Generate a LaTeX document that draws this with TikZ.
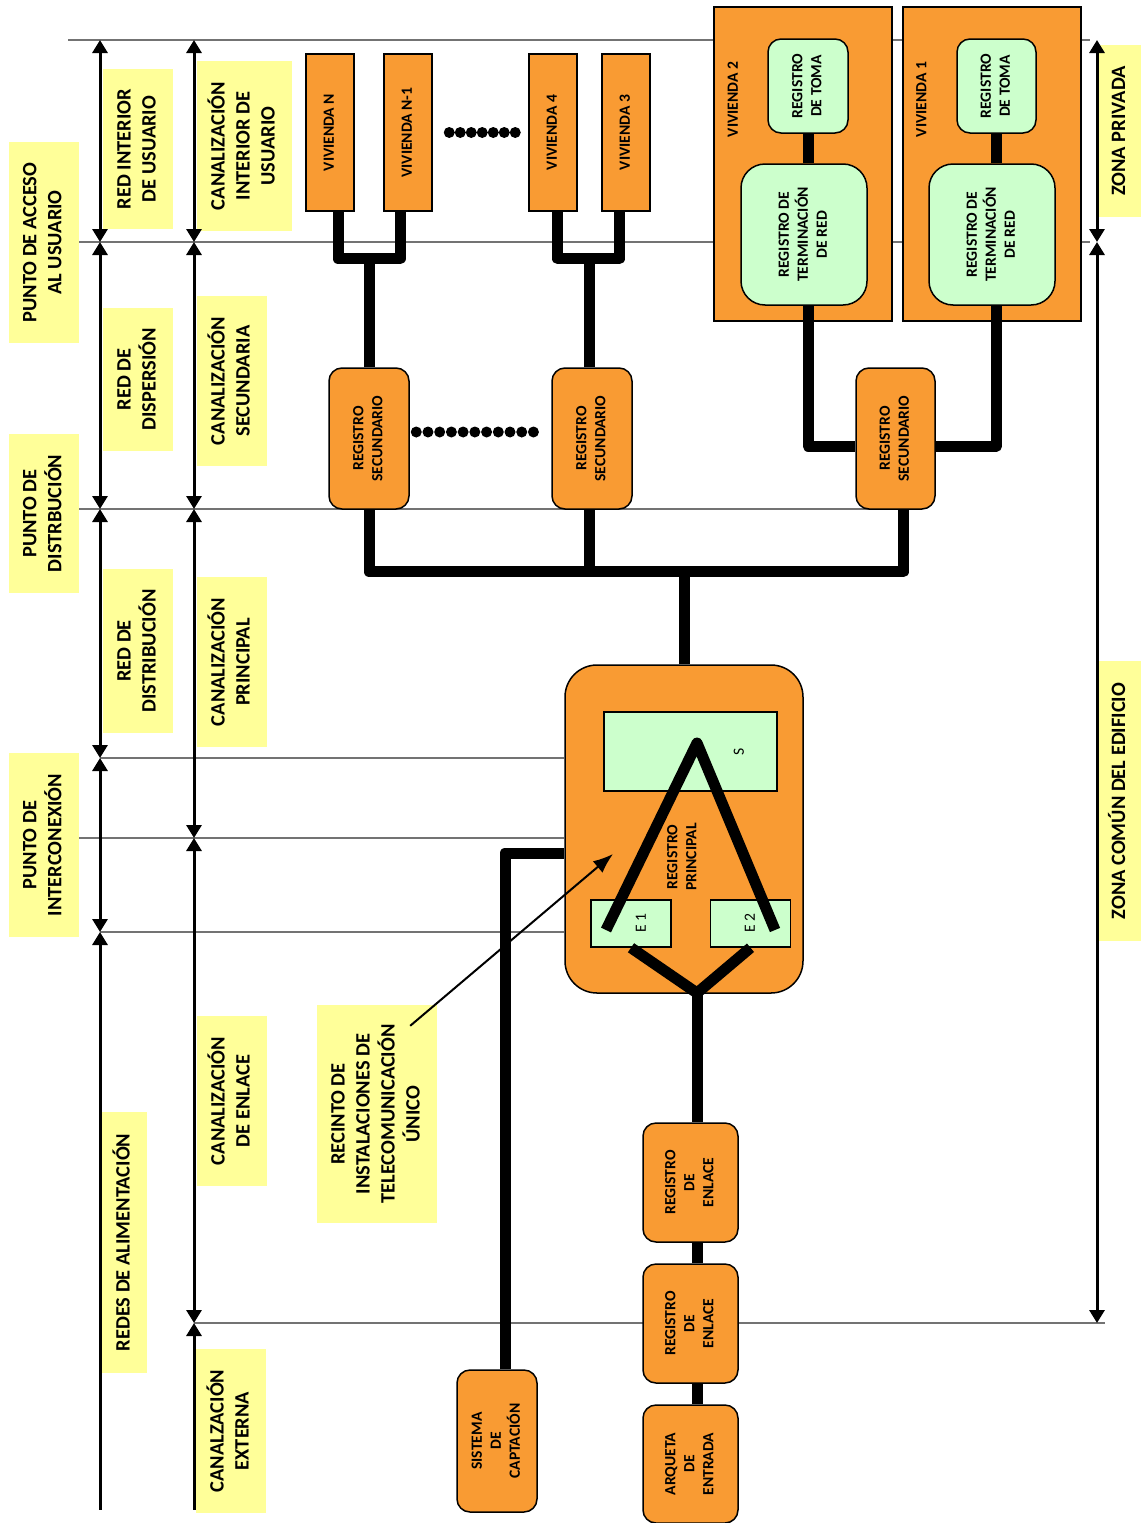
\documentclass[tikz,border=0pt]{standalone}
\usepackage{fontspec}
\setmainfont{Carlito}
\usepackage{graphicx}
\usetikzlibrary{arrows.meta,backgrounds}

\definecolor{naranja}{RGB}{249,155,51}
\definecolor{verde}{RGB}{204,255,204}
\definecolor{amarillo}{RGB}{255,255,153}

\newcommand{\vtxt}[1]{\rotatebox{90}{\begin{tabular}{@{}c@{}}#1\end{tabular}}}

\begin{document}
\begin{tikzpicture}[x=1pt,y=-1pt,
		punta/.tip={Triangle[width=15pt,length=13pt]},
		cota/.style={line width=3pt,punta-punta},
		cotaini/.style={line width=3pt,punta-},
		guia/.style={black!55,line width=1.6pt},
		cable/.style={line width=11pt,line join=round},
		caja/.style={draw,line width=1.5pt,fill=naranja,inner sep=0pt,font=\fontsize{15.6}{19}\selectfont\bfseries},
		regbox/.style={caja,rounded corners=13pt},
		greenbox/.style={caja,fill=verde},
		etiqueta/.style={fill=amarillo,inner sep=0pt,font=\fontsize{20.4}{25}\selectfont\bfseries},
		texto/.style={inner sep=0pt,font=\fontsize{15.6}{19}\selectfont\bfseries}]

	\useasboundingbox (0,0) rectangle (1141,1523);

	\begin{scope}[every node/.append style={etiqueta}]
		\node[minimum width=70pt,minimum height=201pt] (pau) at (44,242.5) {\vtxt{PUNTO DE ACCESO\\AL USUARIO}};
		\node[minimum width=70pt,minimum height=159pt] (pd) at (44,513.5) {\vtxt{PUNTO DE\\DISTRBUCIÓN}};
		\node[minimum width=70pt,minimum height=184pt] (pi) at (44,845) {\vtxt{PUNTO DE\\INTERCONEXIÓN}};
		\node[minimum width=70pt,minimum height=160pt] (riu) at (138,149) {\vtxt{RED INTERIOR\\DE USUARIO}};
		\node[minimum width=70pt,minimum height=143pt] (rdp) at (138,379.5) {\vtxt{RED DE\\DISPERSIÓN}};
		\node[minimum width=70pt,minimum height=164pt] (rdt) at (138,651) {\vtxt{RED DE\\DISTRIBUCIÓN}};
		\node[minimum width=45pt,minimum height=261pt] (ral) at (124.5,1242.5) {\vtxt{REDES DE ALIMENTACIÓN}};
		\node[minimum width=95pt,minimum height=170pt] (ciu) at (244.5,146) {\vtxt{CANALIZACIÓN\\INTERIOR DE\\USUARIO}};
		\node[minimum width=70pt,minimum height=170pt] (cse) at (232,381) {\vtxt{CANALIZACIÓN\\SECUNDARIA}};
		\node[minimum width=70pt,minimum height=170pt] (cpr) at (232,662) {\vtxt{CANALIZACIÓN\\PRINCIPAL}};
		\node[minimum width=70pt,minimum height=170pt] (cen) at (232,1101) {\vtxt{CANALIZACIÓN\\DE ENLACE}};
		\node[minimum width=70pt,minimum height=164pt] (cex) at (231,1431) {\vtxt{CANALZACIÓN\\EXTERNA}};
		\node[minimum width=42pt,minimum height=172pt] (zpr) at (1120,131) {\vtxt{ZONA PRIVADA}};
		\node[minimum width=42pt,minimum height=280pt] (zco) at (1120,801) {\vtxt{ZONA COMÚN DEL EDIFICIO}};
		\node[minimum width=120pt,minimum height=218pt] (rec) at (377,1114) {\vtxt{RECINTO DE\\INSTALACIONES DE\\TELECOMUNICACIÓN\\ÚNICO}};
	\end{scope}

	% cotas
	\draw[cota] (100,40) -- (100,242);
	\draw[cota] (100,242) -- (100,509);
	\draw[cota] (100,509) -- (100,758);
	\draw[cota] (100,758) -- (100,932);
	\draw[cotaini] (100,932) -- (100,1510);
	\draw[cota] (194,40) -- (194,242);
	\draw[cota] (194,242) -- (194,509);
	\draw[cota] (194,509) -- (194,838);
	\draw[cota] (194,838) -- (194,1323);
	\draw[cotaini] (194,1323) -- (194,1510);
	\draw[cota] (1097,40) -- (1097,242);
	\draw[cota] (1097,242) -- (1097,1323);

	% viviendas
	\node[caja,minimum width=48pt,minimum height=157pt] (vN) at (330,132.5) {\vtxt{VIVIENDA N}};
	\node[caja,minimum width=48pt,minimum height=157pt] (vN1) at (408,132.5) {\vtxt{VIVIENDA N-1}};
	\node[caja,minimum width=48pt,minimum height=157pt] (v4) at (553,132.5) {\vtxt{VIVIENDA 4}};
	\node[caja,minimum width=48pt,minimum height=157pt] (v3) at (626,132.5) {\vtxt{VIVIENDA 3}};

	\node[caja,minimum width=178pt,minimum height=314pt] (viv2) at (803,164) {};
	\node[caja,minimum width=178pt,minimum height=314pt] (viv1) at (992,164) {};
	\node[texto] (lv2) at (734,99.5) {\vtxt{VIVIENDA 2}};
	\node[texto] (lv1) at (922.5,99.5) {\vtxt{VIVIENDA 1}};
	\node[greenbox,rounded corners=13pt,minimum width=80pt,minimum height=94pt] (t2) at (808,86) {\vtxt{REGISTRO\\DE TOMA}};
	\node[greenbox,rounded corners=13pt,minimum width=79pt,minimum height=94pt] (t1) at (996.5,86) {\vtxt{REGISTRO\\DE TOMA}};
	\node[greenbox,rounded corners=24pt,minimum width=126pt,minimum height=141pt] (tr2) at (804,234.5) {\vtxt{REGISTRO DE\\TERMINACIÓN\\DE RED}};
	\node[greenbox,rounded corners=24pt,minimum width=126pt,minimum height=141pt] (tr1) at (992,234.5) {\vtxt{REGISTRO DE\\TERMINACIÓN\\DE RED}};

	% registros
	\node[regbox,minimum width=80pt,minimum height=141pt] (rs1) at (369,438.5) {\vtxt{REGISTRO\\SECUNDARIO}};
	\node[regbox,minimum width=80pt,minimum height=141pt] (rs2) at (592,438.5) {\vtxt{REGISTRO\\SECUNDARIO}};
	\node[regbox,minimum width=79pt,minimum height=141pt] (rs3) at (895.5,438.5) {\vtxt{REGISTRO\\SECUNDARIO}};

	\node[caja,rounded corners=32pt,minimum width=238pt,minimum height=328pt] (rp) at (684,829) {};
	\node[greenbox,minimum width=173pt,minimum height=79pt] (s) at (690.5,751.5) {};
	\node[greenbox,minimum width=80pt,minimum height=47pt] (e1) at (631,923.5) {};
	\node[greenbox,minimum width=80pt,minimum height=47pt] (e2) at (750.5,923.5) {};
	\node[texto,font=\fontsize{15.6}{19}\selectfont] (ls) at (740,752) {\vtxt{S}};
	\node[texto,font=\fontsize{15.6}{19}\selectfont] (le1) at (642,923) {\vtxt{E 1}};
	\node[texto,font=\fontsize{15.6}{19}\selectfont] (le2) at (751,923) {\vtxt{E 2}};
	\node[texto] (lrp) at (683,857) {\vtxt{REGISTRO\\PRINCIPAL}};

	\node[regbox,minimum width=95pt,minimum height=119pt] (re1) at (690.5,1182.5) {\vtxt{REGISTRO\\DE\\ENLACE}};
	\node[regbox,minimum width=95pt,minimum height=119pt] (re2) at (690.5,1323.5) {\vtxt{REGISTRO\\DE\\ENLACE}};
	\node[regbox,minimum width=95pt,minimum height=118pt] (aq) at (690.5,1464) {\vtxt{ARQUETA\\DE\\ENTRADA}};
	\node[regbox,minimum width=80pt,minimum height=142pt] (sc) at (497,1441) {\vtxt{SISTEMA\\DE\\CAPTACIÓN}};

	\coordinate (cima) at (697,743);
	\coordinate (vertice) at (697,993);
	\coordinate (flecha) at (613,854);

	% lineas guia
	\begin{scope}[on background layer]
		\draw[guia] (68,40) -- (1090,40);
		\draw[guia] (79,242) -- (1090,242);
		\draw[guia] (79,509) -- (885,509);
		\draw[guia] (100,758) -- (rp.west |- 0,758);
		\draw[guia] (79,838) -- (rp.west |- 0,838);
		\draw[guia] (100,932) -- (rp.west |- 0,932);
		\draw[guia] (194,1323) -- (1105,1323);
	\end{scope}

	% cables
	\draw[cable] ([xshift=8pt]vN.south) -- ++(0,47) -| ([xshift=-8pt]vN1.south);
	\draw[cable] (rs1.north) -- ++(0,-110);
	\draw[cable] ([xshift=4.5pt]v4.south) -- ++(0,47) -| ([xshift=-6.5pt]v3.south);
	\draw[cable] ([xshift=-3pt]rs2.north) -- ++(0,-110);
	\draw[line width=11pt,line cap=round,dash pattern=on 0pt off 11pt] ([xshift=16.5pt]vN1.east) -- ([xshift=-3.4pt]v4.west);
	\draw[line width=11pt,line cap=round,dash pattern=on 0pt off 11.72pt] ([xshift=6.5pt,yshift=6.5pt]rs1.east) -- ([xshift=-7.4pt,yshift=6.5pt]rs2.west);

	\draw[cable] (t2.south) -- (t2.south |- tr2.north);
	\draw[cable] (t1.south) -- (t1.south |- tr1.north);
	\draw[cable] (tr2.south -| t2.south) |- ([yshift=-7.5pt]rs3.west);
	\draw[cable] (tr1.south -| t1.south) |- ([yshift=-7.5pt]rs3.east);

	\draw[cable] (rs1.south) -- ++(0,62) -| ([xshift=8pt]rs3.south);
	\draw[cable] ([xshift=-3pt]rs2.south) -- ++(0,62);
	\draw[cable] (rp.north) -- ++(0,-94);

	\draw[cable] ([shift={(-25,6.5)}]e1.center) -- (cima) -- ([shift={(24.5,6.5)}]e2.center);
	\draw[cable] (e1.south) -- (vertice) -- (e2.south);
	\draw[cable] (vertice) -- (vertice |- re1.north);
	\draw[cable] (re1.south -| vertice) -- (re2.north -| vertice);
	\draw[cable] (re2.south -| vertice) -- (aq.north -| vertice);
	\draw[cable] ([xshift=8pt]sc.north) |- ([yshift=-24pt]rp.west);

	\draw[line width=2pt,-{Latex[length=20pt,width=15pt]}] ([shift={(-27,21)}]rec.north east) -- (flecha);
\end{tikzpicture}
\end{document}
